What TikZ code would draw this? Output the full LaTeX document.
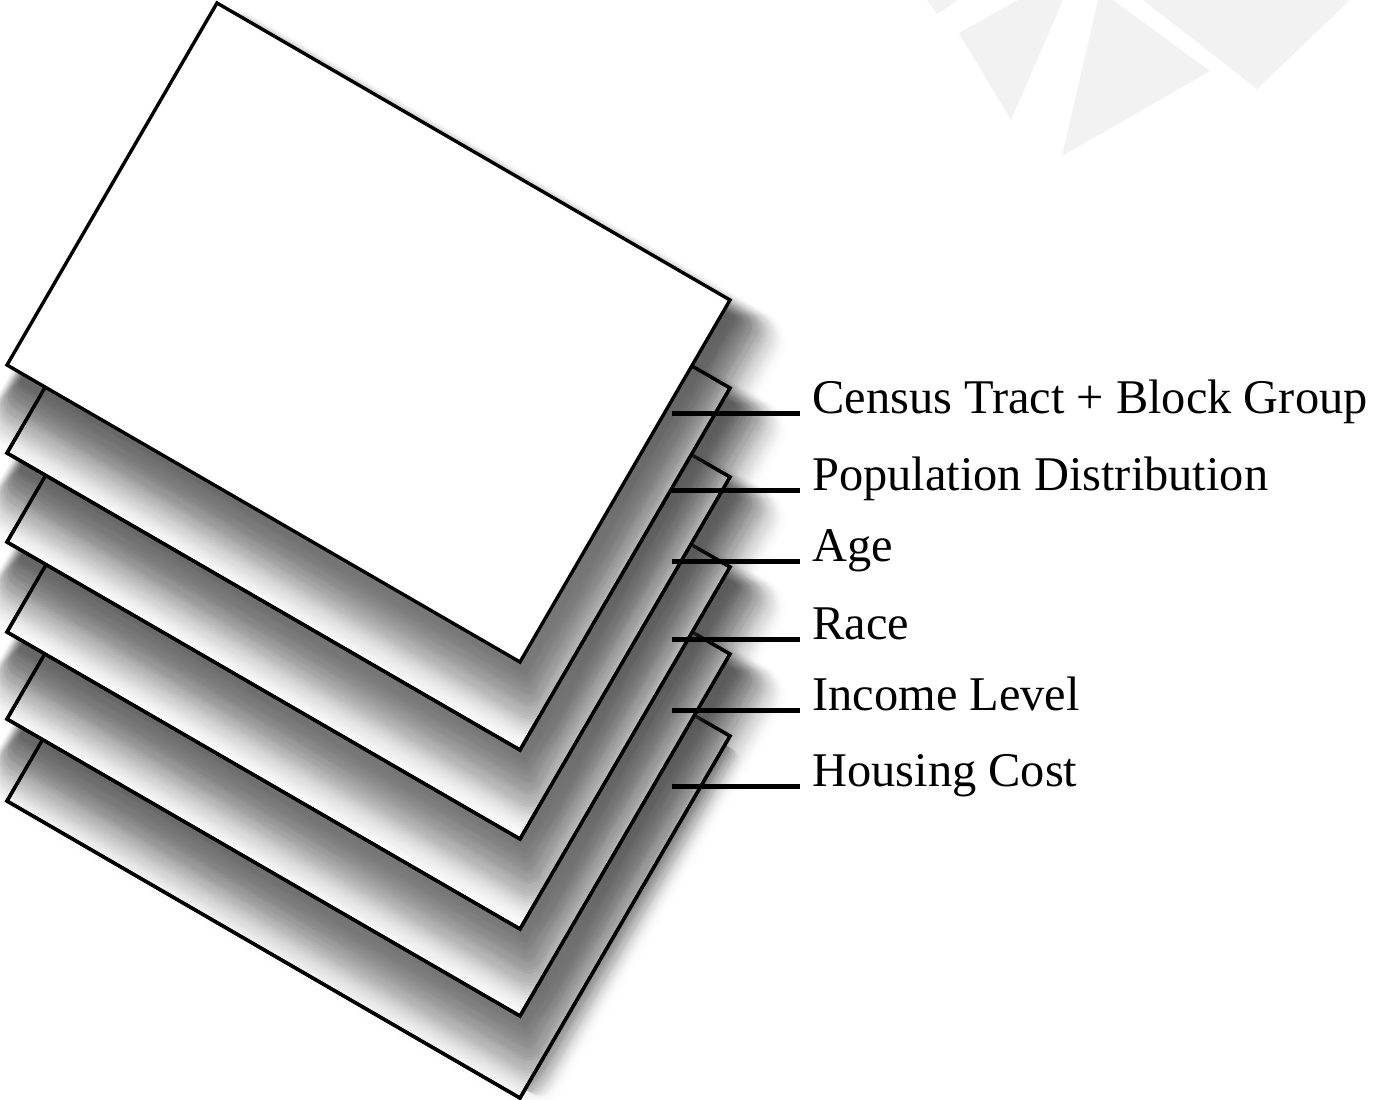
\documentclass[tikz,border=0pt]{standalone}
\usepackage{fontspec}
\setmainfont{Liberation Serif}
\definecolor{shade}{RGB}{92,94,102}
\definecolor{facetgray}{RGB}{242,242,242}
% outline of one sheet, pushed down the stack by #1
\newcommand\sheetoutline[1]{(217,{3+#1}) -- (730,{300+#1}) -- (520,{662+#1}) -- (7,{365+#1}) -- cycle}
% soft shadow of a sheet: growing translucent rectangles in the sheet's own
% frame (local +x = lower right side, local +y = lower left side)
\newcommand\sheetshadow[1]{%
  \begin{scope}[shift={(368.5,{332.5+#1})}, rotate=-30.07]
    \foreach \k in {1,...,28}{
      \pgfmathsetmacro\al{0.08*(1-\k/29)}
      \fill[shade, opacity=\al, rounded corners={0.6pt*\k}]
        ({-276.4-0.5*\k},{-195.3-0.8*\k}) rectangle ({304.4+2.4*\k},{213.3+2.7*\k});
    }
  \end{scope}}
\begin{document}
\begin{tikzpicture}[x=0.5pt,y=-0.5pt,
  sheet/.style={fill=white, draw=black, line width=1.7pt, line join=miter},
  rim/.style={draw=black, line width=1.7pt, line join=miter},
  tick/.style={line width=2.5pt},
  lbl/.style={font=\fontsize{24.2}{28}\selectfont, anchor=base west,
      inner xsep=6pt, inner ysep=0pt},
  facet/.style={fill=facetgray, draw=none}]
\useasboundingbox (0,0) rectangle (1375,1099);

% pale facets in the upper right corner
\fill[facet] (927,0) -- (937,14) -- (958,0) -- cycle;
\fill[facet] (959,33) -- (1018,0) -- (1063,0) -- (1011,120) -- cycle;
\fill[facet] (1098,0) -- (1113,0) -- (1210,71) -- (1062,156) -- cycle;
\fill[facet] (1143,0) -- (1350,0) -- (1257,89) -- cycle;

% lowest sheet, with a faint shadow on its right only
\begin{scope}[shift={(368.5,768.5)}, rotate=-30.07]
  \foreach \k in {1,...,16}{
    \pgfmathsetmacro\al{0.05*(1-\k/17)}
    \fill[shade, opacity=\al, rounded corners={0.4pt*\k}]
      (-276.4,-199.3) rectangle ({296.4+1.6*\k},199.3);
  }
\end{scope}
\path[sheet] \sheetoutline{436};

% the other sheets, each casting its shadow on the one below
\foreach \dy/\below in {354/436,267/354,177/267,88/177,0/88}{
  \sheetshadow{\dy}
  \path[rim] \sheetoutline{\below};
  \path[sheet] \sheetoutline{\dy};
}

% layer labels
\node[lbl] (l1) at (800,413) {Census Tract + Block Group};
\node[lbl] (l2) at (800,490) {Population Distribution};
\node[lbl] (l3) at (800,561) {Age};
\node[lbl] (l4) at (800,639) {Race};
\node[lbl] (l5) at (800,710) {Income Level};
\node[lbl] (l6) at (800,786) {Housing Cost};
\coordinate (s1) at (672,413);
\coordinate (s2) at (672,490);
\coordinate (s3) at (672,561);
\coordinate (s4) at (672,639);
\coordinate (s5) at (672,710);
\coordinate (s6) at (672,786);
\foreach \i in {1,...,6}
  \draw[tick] (s\i) -- (l\i.base west);
\end{tikzpicture}
\end{document}
